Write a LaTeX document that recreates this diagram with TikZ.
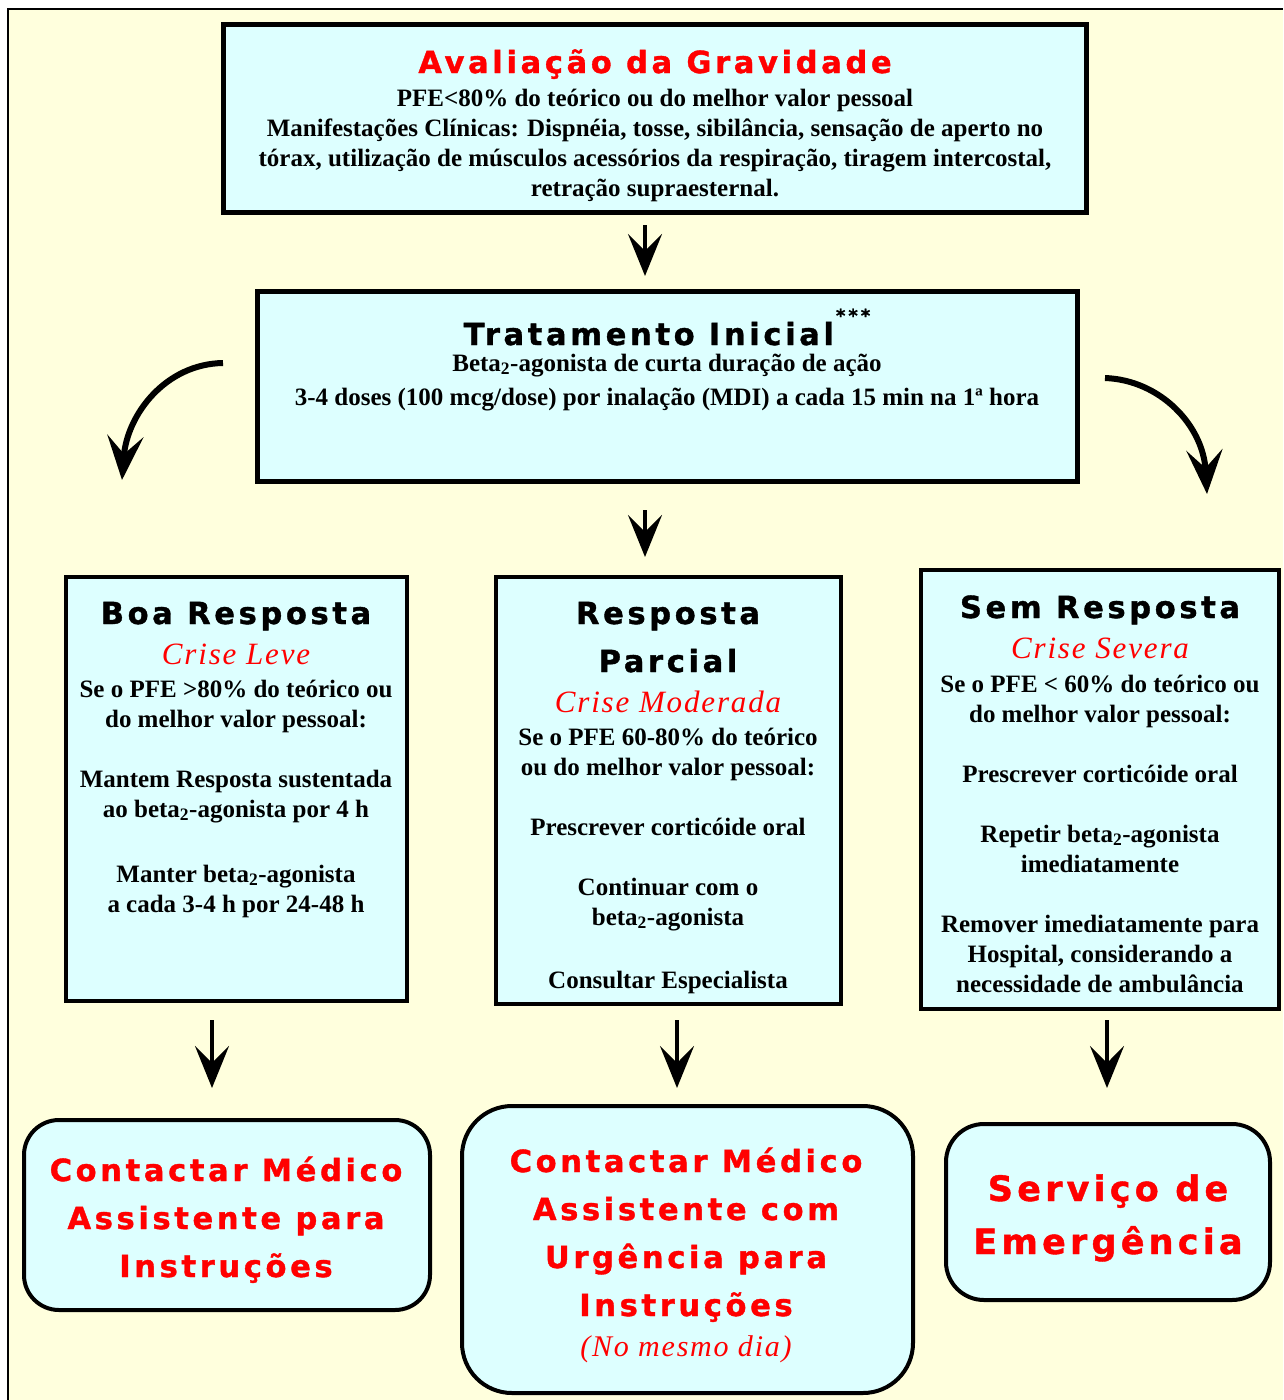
\documentclass[tikz,border=0pt]{standalone}
\usepackage{fontspec}
\setmainfont{Liberation Serif}
\newfontfamily\headf[LetterSpace=12,FakeBold=1.2]{DejaVu Sans Bold}
\newfontfamily\crisef[LetterSpace=6]{Liberation Serif}
\usetikzlibrary{arrows.meta}
\definecolor{bgy}{HTML}{FFFFDD}
\definecolor{cyn}{HTML}{DDFFFF}
\definecolor{rd}{HTML}{FF0000}
\newcommand\HD[2]{{\headf\fontsize{#1}{#1}\selectfont #2}}
\newcommand\CR[2]{{\crisef\mdseries\itshape\color{rd}\fontsize{#1}{#1}\selectfont #2}}
\newcommand\Lsp[1]{\\[#1pt]}
\newcommand\TB[2]{\parbox[t]{#1pt}{\centering\fontsize{25}{0}\selectfont\bfseries\baselineskip=0pt\lineskip=0pt\lineskiplimit=-300pt\leavevmode #2}}
\tikzset{
  frame/.style={draw=black, fill=cyn, line width=4pt, inner sep=0pt},
  txt/.style={inner sep=0pt, outer sep=0pt, anchor=base},
  arr/.style={line width=4pt, -{Stealth[length=42pt,width=34pt,inset=17pt]}},
  carr/.style={line width=6pt, -{Stealth[length=44pt,width=36pt,inset=18pt]}}
}
\begin{document}
\begin{tikzpicture}[x=1pt,y=-1pt]
\useasboundingbox (0,0) rectangle (1283,1400);
\fill[white] (0,0) rectangle (1283,1400);
\fill[bgy] (8,9) rectangle (1283,1400);
\draw[line width=1.5pt] (8,1400) -- (8,9) -- (1283,9);

% frames
\node[frame, line width=5pt, minimum width=863pt, minimum height=188pt] (b1) at (655,118.5) {};
\node[frame, line width=5pt, minimum width=820pt, minimum height=190pt] (b2) at (667.5,386.5) {};
\node[frame, minimum width=341pt, minimum height=424pt] (bA) at (236.5,789) {};
\node[frame, minimum width=345pt, minimum height=427pt] (bB) at (668.5,790.5) {};
\node[frame, minimum width=358pt, minimum height=439pt] (bC) at (1100,789.5) {};
\node[frame, rounded corners=35pt, minimum width=406pt, minimum height=190pt] (eA) at (227,1215) {};
\node[frame, rounded corners=50pt, minimum width=451pt, minimum height=287pt] (eB) at (687.5,1249.5) {};
\node[frame, rounded corners=38pt, minimum width=324pt, minimum height=176pt] (eC) at (1108,1212) {};

% texts
\node[txt] (t1) at (655,73) {\TB{900}{%
\HD{30.5}{\color{rd}Avaliação da Gravidade}\Lsp{33}
PFE<80\% do teórico ou do melhor valor pessoal\Lsp{30}
Manifestações Clínicas: Dispnéia, tosse, sibilância, sensação de aperto no\Lsp{30}
tórax, utilização de músculos acessórios da respiração, tiragem intercostal,\Lsp{30}
retração supraesternal.}};

\node[txt] (t2) at (667,345) {\TB{900}{%
\HD{30.5}{Tratamento Inicial\hspace{2pt}\raisebox{23pt}{\fontsize{18}{18}\selectfont *\hspace{3pt}*\hspace{3pt}*}}\Lsp{26}
Beta\textsubscript{2}-agonista de curta duração de ação\Lsp{34}
3-4 doses (100 mcg/dose) por inalação (MDI) a cada 15 min na 1ª hora}};

\node[txt] (tA) at (236,624) {\TB{400}{%
\HD{30.5}{Boa Resposta}\Lsp{40}
\CR{31}{Crise Leve}\Lsp{33}
Se o PFE >80\% do teórico ou\Lsp{30}
do melhor valor pessoal:\Lsp{60}
Mantem Resposta sustentada\Lsp{30}
ao beta\textsubscript{2}-agonista por 4 h\Lsp{65}
Manter beta\textsubscript{2}-agonista\Lsp{30}
a cada 3-4 h por 24-48 h}};

\node[txt] (tB) at (668,624) {\TB{400}{%
\HD{30.5}{Resposta}\Lsp{48}
\HD{30.5}{Parcial}\Lsp{40}
\CR{31}{Crise Moderada}\Lsp{33}
Se o PFE 60-80\% do teórico\Lsp{30}
ou do melhor valor pessoal:\Lsp{60}
Prescrever corticóide oral\Lsp{60}
Continuar com o\Lsp{30}
beta\textsubscript{2}-agonista\Lsp{63}
Consultar Especialista}};

\node[txt] (tC) at (1100,618) {\TB{400}{%
\HD{30.5}{Sem Resposta}\Lsp{40}
\CR{31}{Crise Severa}\Lsp{34}
Se o PFE < 60\% do teórico ou\Lsp{30}
do melhor valor pessoal:\Lsp{60}
Prescrever corticóide oral\Lsp{60}
Repetir beta\textsubscript{2}-agonista\Lsp{30}
imediatamente\Lsp{60}
Remover imediatamente para\Lsp{30}
Hospital, considerando a\Lsp{30}
necessidade de ambulância}};

\node[txt] (uA) at (226,1181) {\TB{440}{\color{rd}%
\HD{30.5}{Contactar Médico}\Lsp{48}
\HD{30.5}{Assistente para}\Lsp{48}
\HD{30.5}{Instruções}}};

\node[txt] (uB) at (686,1172) {\TB{460}{\color{rd}%
\HD{30.5}{Contactar Médico}\Lsp{48}
\HD{30.5}{Assistente com}\Lsp{48}
\HD{30.5}{Urgência para}\Lsp{48}
\HD{30.5}{Instruções}\Lsp{40}
\CR{30}{(No mesmo dia)}}};

\node[txt] (uC) at (1108,1201) {\TB{340}{\color{rd}%
\HD{35}{Serviço de}\Lsp{53}
\HD{35}{Emergência}}};

% straight connectors
\coordinate (xa) at (645,0);
\coordinate (xl) at (212,0);
\coordinate (xm) at (677,0);
\coordinate (xr) at (1107,0);
\draw[arr, shorten <=10pt, shorten >=13pt] (b1.south -| xa) -- (b2.north -| xa);
\draw[arr, shorten <=26pt, shorten >=18pt] (b2.south -| xa) -- (bB.north -| xa);
\draw[arr, shorten <=17pt, shorten >=30pt] (bA.south -| xl) -- (eA.north -| xl);
\draw[arr, shorten <=14pt, shorten >=16pt] (bB.south -| xm) -- (eB.north -| xm);
\draw[arr, shorten <=9pt, shorten >=34pt] (bC.south -| xr) -- (eC.north -| xr);

% curved connectors
\coordinate (lend) at (122,480);
\coordinate (rend) at (1207,494);
\draw[carr] ([xshift=-32pt,yshift=23.5pt]b2.west) .. controls (165,364) and (127,415) .. (lend);
\draw[carr] ([xshift=25pt,yshift=8.5pt]b2.east) .. controls (1160,380) and (1203,425) .. (rend);
\end{tikzpicture}
\end{document}
